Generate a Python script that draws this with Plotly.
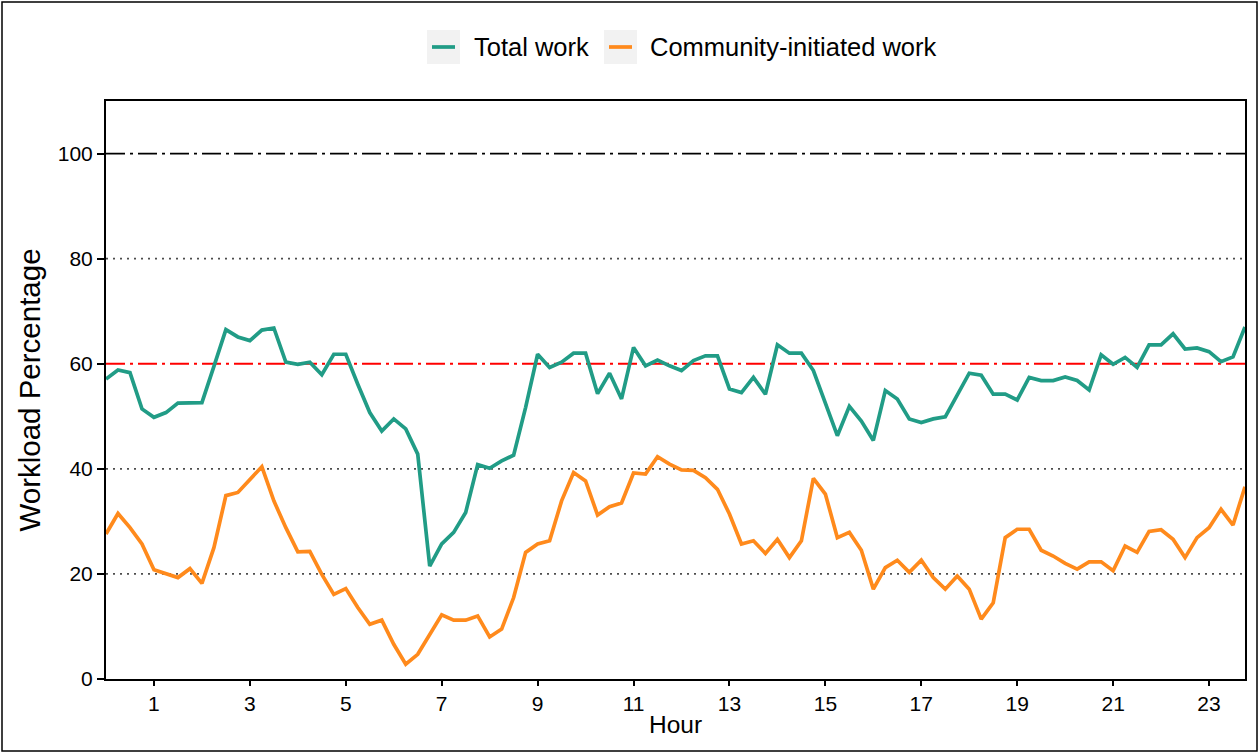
import plotly.graph_objects as go

# ---------------- data ----------------
hours = [0.0, 0.25, 0.5, 0.75, 1.0, 1.25, 1.5, 1.75, 2.0, 2.25, 2.5, 2.75,
         3.0, 3.25, 3.5, 3.75, 4.0, 4.25, 4.5, 4.75, 5.0, 5.25, 5.5, 5.75,
         6.0, 6.25, 6.5, 6.75, 7.0, 7.25, 7.5, 7.75, 8.0, 8.25, 8.5, 8.75,
         9.0, 9.25, 9.5, 9.75, 10.0, 10.25, 10.5, 10.75, 11.0, 11.25, 11.5, 11.75,
         12.0, 12.25, 12.5, 12.75, 13.0, 13.25, 13.5, 13.75, 14.0, 14.25, 14.5, 14.75,
         15.0, 15.25, 15.5, 15.75, 16.0, 16.25, 16.5, 16.75, 17.0, 17.25, 17.5, 17.75,
         18.0, 18.25, 18.5, 18.75, 19.0, 19.25, 19.5, 19.75, 20.0, 20.25, 20.5, 20.75,
         21.0, 21.25, 21.5, 21.75, 22.0, 22.25, 22.5, 22.75, 23.0, 23.25, 23.5, 23.75]

total_work = [57.1, 58.8, 58.3, 51.4, 49.8, 50.7, 52.5, 52.6, 52.6, 59.5, 66.5, 65.1,
              64.4, 66.4, 66.8, 60.3, 59.9, 60.3, 57.9, 61.8, 61.8, 56.1, 50.7, 47.2,
              49.5, 47.6, 42.8, 21.5, 25.7, 27.9, 31.7, 40.8, 40.1, 41.5, 42.6, 51.7,
              61.8, 59.3, 60.3, 62.0, 62.0, 54.3, 58.2, 53.3, 63.1, 59.6, 60.7, 59.6,
              58.7, 60.6, 61.5, 61.5, 55.2, 54.5, 57.4, 54.2, 63.6, 62.0, 62.0, 58.7,
              52.6, 46.3, 51.9, 49.1, 45.4, 54.9, 53.3, 49.5, 48.8, 49.5, 49.9, 53.9,
              58.2, 57.8, 54.2, 54.2, 53.1, 57.4, 56.8, 56.8, 57.5, 56.8, 55.0, 61.7,
              59.9, 61.2, 59.3, 63.6, 63.6, 65.7, 62.8, 63.0, 62.3, 60.4, 61.3, 67.0]

community_work = [27.6, 31.5, 28.8, 25.7, 20.8, 20.1, 19.3, 21.0, 18.2, 25.0, 34.9, 35.5,
                  38.0, 40.4, 33.9, 28.8, 24.2, 24.3, 19.9, 16.1, 17.2, 13.6, 10.4, 11.2,
                  6.6, 2.8, 4.7, 8.5, 12.2, 11.2, 11.2, 12.0, 8.0, 9.5, 15.5, 24.1,
                  25.7, 26.3, 33.9, 39.3, 37.7, 31.2, 32.8, 33.5, 39.2, 39.0, 42.3, 40.9,
                  39.8, 39.7, 38.3, 36.1, 31.4, 25.7, 26.3, 23.9, 26.6, 23.1, 26.3, 38.2,
                  35.2, 26.9, 27.9, 24.5, 17.1, 21.2, 22.6, 20.3, 22.6, 19.3, 17.1, 19.6,
                  17.1, 11.4, 14.5, 26.9, 28.5, 28.5, 24.5, 23.4, 22.0, 20.9, 22.3, 22.3,
                  20.6, 25.3, 24.1, 28.1, 28.4, 26.6, 23.1, 26.9, 28.8, 32.3, 29.3, 36.6]

series_names = ["Total work", "Community-initiated work"]
x_tick_vals = [1, 3, 5, 7, 9, 11, 13, 15, 17, 19, 21, 23]
y_tick_vals = [0, 20, 40, 60, 80, 100]
dotted_levels = [20, 40, 80]
threshold_level = 60
max_level = 100

# ---------------- style ----------------
FONT = "Liberation Sans, Arial, sans-serif"
TEAL = "#219C86"
ORANGE = "#FF8A1C"
W, H = 1259, 753
ML, MR, MT, MB = 106, 14, 101, 74
PW, PH = W - ML - MR, H - MT - MB


def px_x(p):
    return (p - ML) / PW


def px_y(q):
    return (H - MB - q) / PH


fig = go.Figure()
fig.add_trace(go.Scatter(x=hours, y=total_work, mode="lines", name=series_names[0],
                         line=dict(color=TEAL, width=3.7), showlegend=False))
fig.add_trace(go.Scatter(x=hours, y=community_work, mode="lines", name=series_names[1],
                         line=dict(color=ORANGE, width=3.7), showlegend=False))

shapes = []
for lv in dotted_levels:
    shapes.append(dict(type="line", xref="paper", yref="y", x0=0, x1=1, y0=lv, y1=lv,
                       line=dict(color="#4D4D4D", width=1.7, dash="2px,5px"), layer="below"))
shapes.append(dict(type="line", xref="paper", yref="y", x0=0, x1=1,
                   y0=threshold_level, y1=threshold_level,
                   line=dict(color="#FF0000", width=2, dash="19px,5px,3px,5px"), layer="below"))
shapes.append(dict(type="line", xref="paper", yref="y", x0=0, x1=1,
                   y0=max_level, y1=max_level,
                   line=dict(color="black", width=1.8, dash="19px,5px,3px,5px"), layer="below"))

# outer figure border
shapes.append(dict(type="rect", xref="paper", yref="paper",
                   x0=px_x(2), x1=px_x(1257), y0=px_y(751), y1=px_y(2),
                   line=dict(color="black", width=1.5), fillcolor="rgba(0,0,0,0)"))

# custom legend (ggplot style keys with grey background)
annotations = []
legend_items = [(427, series_names[0], TEAL, 472), (604, series_names[1], ORANGE, 648)]
for kx, label, col, tx in legend_items:
    shapes.append(dict(type="rect", xref="paper", yref="paper",
                       x0=px_x(kx), x1=px_x(kx + 33), y0=px_y(64), y1=px_y(30),
                       line=dict(width=0), fillcolor="#F2F2F2"))
    shapes.append(dict(type="line", xref="paper", yref="paper",
                       x0=px_x(kx + 5), x1=px_x(kx + 28), y0=px_y(47), y1=px_y(47),
                       line=dict(color=col, width=3.7)))
    annotations.append(dict(xref="paper", yref="paper", x=px_x(tx), y=px_y(47),
                            text=label, showarrow=False, xanchor="left", yanchor="middle",
                            font=dict(family=FONT, size=25.5, color="black")))

fig.update_layout(
    width=W, height=H,
    margin=dict(l=ML, r=MR, t=MT, b=MB, pad=0),
    paper_bgcolor="white", plot_bgcolor="white",
    font=dict(family=FONT, color="black"),
    shapes=shapes, annotations=annotations,
    showlegend=False,
)
fig.update_xaxes(range=[0, 23.75], tickvals=x_tick_vals, ticks="outside", ticklen=5,
                 tickwidth=1.5, tickcolor="black", showline=True, linecolor="black",
                 linewidth=2, mirror=True, showgrid=False, zeroline=False,
                 tickfont=dict(family=FONT, size=21, color="black"),
                 title=dict(text="Hour", font=dict(family=FONT, size=24.5, color="black"), standoff=2))
fig.update_yaxes(range=[0, 110], tickvals=y_tick_vals, ticks="outside", ticklen=7,
                 tickwidth=1.5, tickcolor="black", showline=True, linecolor="black",
                 linewidth=2, mirror=True, showgrid=False, zeroline=False,
                 tickfont=dict(family=FONT, size=21, color="black"),
                 title=dict(text="Workload Percentage", font=dict(family=FONT, size=29.5, color="black"),
                            standoff=8))

fig.write_html("out.html", config={"displayModeBar": False},
               post_script="document.body.style.margin='0';")
